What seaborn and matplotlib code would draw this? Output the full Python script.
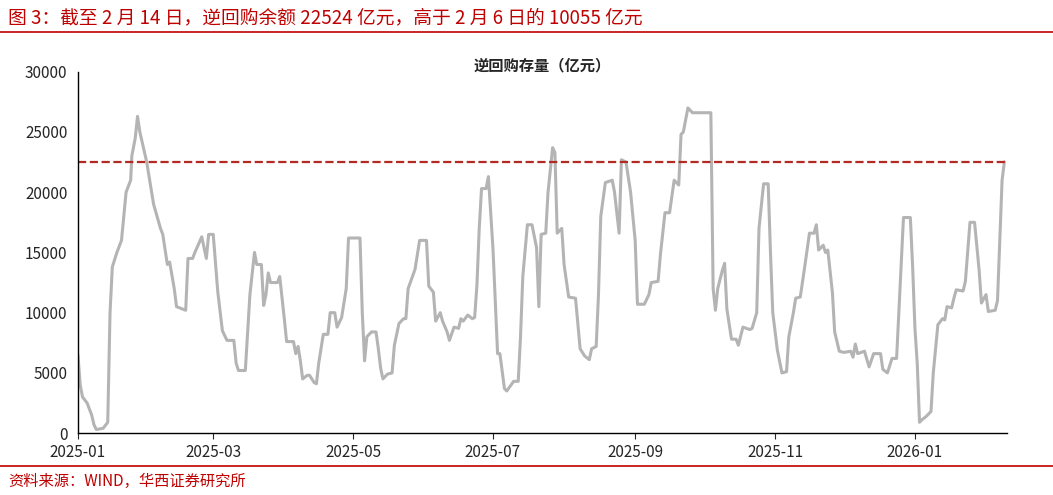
import numpy as np
import pandas as pd
import matplotlib.pyplot as plt
import matplotlib.dates as mdates
import seaborn as sns

sns.set_style('white')
plt.rcParams['font.family'] = ['Noto Sans CJK SC', 'DejaVu Sans']

# days since 2025-01-01 and outstanding reverse repo (亿元)
days = [0, 1, 2, 4, 6, 7, 8, 11, 13, 14, 15, 17, 19, 20, 21, 23, 23.5, 25, 26, 27, 30, 33, 36, 37, 39, 40, 42, 43, 47, 48,
        50, 51, 54, 56, 57, 59, 61, 63, 65, 68, 69, 70, 73, 75, 77, 78, 80, 81, 82, 83, 84, 87, 88, 90, 91, 94, 95, 96, 97, 98,
        100, 101, 103, 104, 105, 107, 109, 110, 112, 113, 115, 117, 118, 121, 123, 124, 125, 126, 128, 130, 131, 132, 133, 135, 137, 138, 140, 142, 143, 144,
        147, 149, 152, 153, 155, 156, 158, 159, 161, 162, 164, 166, 167, 168, 170, 172, 173, 174, 175, 176, 178, 179, 181, 183, 184, 186, 187, 190, 192, 193,
        194, 196, 198, 200, 201, 202, 204, 205, 207, 208, 209, 211, 212, 214, 217, 219, 221, 223, 224, 226, 227, 228, 230, 233, 234, 236, 237, 239, 241, 243,
        244, 247, 249, 250, 253, 254, 256, 258, 260, 262, 263, 264, 266, 268, 276, 277, 278, 279, 281, 282, 283, 285, 287, 288, 290, 293, 294, 296, 297, 299,
        301, 302, 303, 305, 307, 309, 310, 312, 313, 315, 317, 319, 321, 322, 323, 325, 326, 327, 329, 330, 332, 334, 337, 338, 339, 340, 343, 345, 347, 350,
        351, 353, 355, 357, 360, 363, 364, 365, 366, 367, 368, 370, 372, 373, 375, 377, 378, 379, 381, 382, 383, 386, 387, 389, 391, 393, 394, 396, 397, 400,
        401, 402, 403, 404]
values = [6500, 4000, 3000, 2500, 1500, 700, 300, 400, 900, 10000, 13800, 15000, 16000, 18000, 20000, 21000, 23000, 24500, 26300, 25000, 22500, 19000, 17000, 16500, 14000, 14200, 12000, 10500, 10200, 14500,
          14500, 15000, 16300, 14500, 16500, 16500, 11700, 8500, 7700, 7700, 5800, 5200, 5200, 11500, 15000, 14000, 14000, 10600, 11500, 13300, 12500, 12500, 13000, 9500, 7600, 7600, 6600, 7200, 6000, 4500,
          4800, 4800, 4200, 4100, 5800, 8200, 8200, 10000, 10000, 8800, 9600, 12000, 16200, 16200, 16200, 10000, 6000, 8000, 8400, 8400, 7000, 5400, 4500, 4900, 5000, 7300, 9100, 9500, 9500, 12000,
          13600, 16000, 16000, 12200, 11700, 9300, 10000, 9300, 8400, 7700, 8800, 8700, 9500, 9300, 9800, 9500, 9600, 12300, 17000, 20300, 20300, 21300, 15300, 6600, 6600, 3700, 3500, 4300, 4300, 8000,
          13000, 17300, 17300, 15400, 10500, 16500, 16600, 20000, 23700, 23300, 16600, 17000, 14000, 11300, 11200, 7000, 6400, 6100, 7000, 7200, 11500, 18000, 20800, 21000, 20000, 16600, 22700, 22500, 20000, 16000,
          10700, 10700, 11500, 12500, 12600, 14800, 18300, 18300, 21000, 20600, 24800, 25000, 27000, 26600, 26600, 12000, 10200, 12000, 13500, 14100, 10300, 7800, 7800, 7300, 8800, 8600, 8700, 10000, 17000, 20700,
          20700, 15000, 10000, 6900, 5000, 5100, 8000, 10000, 11200, 11300, 13900, 16600, 16600, 17300, 15200, 15600, 15000, 15200, 11700, 8400, 6800, 6700, 6800, 6300, 7400, 6600, 6800, 5500, 6600, 6600,
          5300, 5000, 6200, 6200, 17900, 17900, 13800, 8700, 5800, 900, 1100, 1400, 1800, 5000, 9000, 9500, 9400, 10500, 10400, 11200, 11900, 11800, 12600, 17500, 17500, 13500, 10800, 11500, 10100, 10200,
          11000, 16000, 21000, 22524]
latest = 22524

df = pd.DataFrame({'date': pd.Timestamp('2025-01-01') + pd.to_timedelta(days, unit='D'), 'value': values})

fig = plt.figure(figsize=(10.53, 4.95), dpi=100)
ax = fig.add_axes([0.074, 0.125, 0.882, 0.73])
sns.lineplot(data=df, x='date', y='value', ax=ax, color='#b4b4b4', linewidth=2.2)
ax.axhline(latest, color='#b22a22', linestyle='--', linewidth=1.6)

ax.set_ylim(0, 30000)
ax.set_yticks(range(0, 30001, 5000))
ax.set_xlim(df['date'].min(), df['date'].max() + pd.Timedelta(days=1))
ax.xaxis.set_major_locator(mdates.MonthLocator(bymonth=[1, 3, 5, 7, 9, 11]))
ax.xaxis.set_major_formatter(mdates.DateFormatter('%Y-%m'))
ax.set_xlabel('')
ax.set_ylabel('')
ax.tick_params(labelsize=11, length=4, direction='out', bottom=True, left=False)
for s in ['top', 'right']:
    ax.spines[s].set_visible(False)
for s in ['left', 'bottom']:
    ax.spines[s].set_color('black')
    ax.spines[s].set_linewidth(1)
ax.text(0.5, 0.995, '逆回购存量（亿元）', transform=ax.transAxes, ha='center', va='bottom',
        fontsize=11, fontweight='bold')

red = '#c00000'
fig.text(0.008, 0.965, '图 3：截至 2 月 14 日，逆回购余额 22524 亿元，高于 2 月 6 日的 10055 亿元',
         color=red, fontsize=13.5, va='center', ha='left')
fig.add_artist(plt.Line2D([0, 1], [0.935, 0.935], color=red, linewidth=1.2))
fig.add_artist(plt.Line2D([0, 1], [0.058, 0.058], color=red, linewidth=1.2))
fig.text(0.008, 0.028, '资料来源：WIND，华西证券研究所', color=red, fontsize=11, va='center', ha='left')

fig.savefig('out.png', dpi=100)
